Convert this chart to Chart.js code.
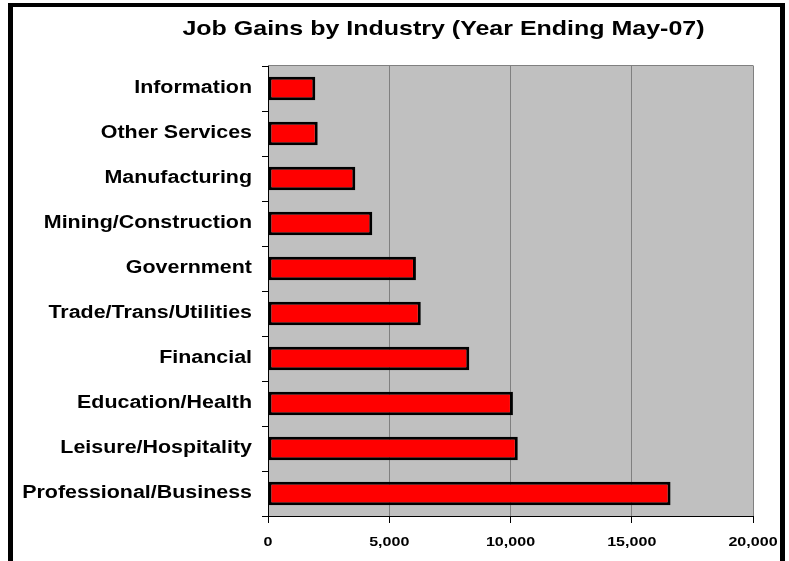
<!DOCTYPE html>
<html>
<head>
<meta charset="utf-8">
<script src="https://cdn.jsdelivr.net/npm/chart.js@4"></script>
<style>
  html, body { margin: 0; padding: 0; background: #fff; overflow: hidden; }
  #wrap { position: relative; width: 789px; height: 561px; }
  #c { position: absolute; left: 0; top: 0; }
  #frame { position: absolute; left: 8px; top: 3px; width: 767px; height: 620px;
           border-left: 5px solid #000; border-right: 5px solid #000; border-top: 4px solid #000;
           pointer-events: none; box-sizing: content-box; }
</style>
</head>
<body>
<div id="wrap">
  <canvas id="c" width="789" height="561"></canvas>
  <div id="frame"></div>
</div>
<script>
const TITLE = "Job Gains by Industry (Year Ending May-07)";
const categories = [
  "Information", "Other Services", "Manufacturing", "Mining/Construction",
  "Government", "Trade/Trans/Utilities", "Financial", "Education/Health",
  "Leisure/Hospitality", "Professional/Business"
];
const jobGains = [1950, 2050, 3600, 4300, 6100, 6300, 8300, 10100, 10300, 16600];
const xTickValues = [0, 5000, 10000, 15000, 20000];
const xTickLabels = ["0", "5,000", "10,000", "15,000", "20,000"];

// The reference text is horizontally widened; reproduce it by scaling glyphs about their anchor.
const SX = 1.19;
const proto = CanvasRenderingContext2D.prototype;
const origFill = proto.fillText;
const origMeasure = proto.measureText;
proto.fillText = function (t, x, y, mw) {
  this.save();
  this.translate(x, y);
  this.scale(SX, 1);
  origFill.call(this, t, 0, 0);
  this.restore();
};
proto.measureText = function (t) {
  const m = origMeasure.call(this, t);
  return {
    width: m.width * SX,
    actualBoundingBoxAscent: m.actualBoundingBoxAscent,
    actualBoundingBoxDescent: m.actualBoundingBoxDescent,
    actualBoundingBoxLeft: m.actualBoundingBoxLeft * SX,
    actualBoundingBoxRight: m.actualBoundingBoxRight * SX,
    fontBoundingBoxAscent: m.fontBoundingBoxAscent,
    fontBoundingBoxDescent: m.fontBoundingBoxDescent
  };
};

const plotBg = {
  id: 'plotBg',
  beforeDraw(chart) {
    const { ctx, chartArea: a } = chart;
    ctx.save();
    ctx.fillStyle = '#C0C0C0';
    ctx.fillRect(a.left, a.top, a.right - a.left, a.bottom - a.top);
    ctx.strokeStyle = '#808080';
    ctx.lineWidth = 1;
    ctx.beginPath();
    ctx.moveTo(a.left, a.top - 0.5);
    ctx.lineTo(a.right + 0.5, a.top - 0.5);
    ctx.stroke();
    ctx.restore();
  },
  afterDraw(chart) {
    const ctx = chart.ctx;
    ctx.save();
    ctx.font = 'bold 21px "Liberation Sans", Arial, sans-serif';
    ctx.fillStyle = '#000';
    ctx.textAlign = 'center';
    ctx.textBaseline = 'alphabetic';
    ctx.fillText(TITLE, 443.5, 35);
    ctx.restore();
  }
};

new Chart(document.getElementById('c'), {
  type: 'bar',
  data: {
    labels: categories,
    datasets: [{
      data: jobGains,
      backgroundColor: '#FF0000',
      borderColor: '#000000',
      borderWidth: 3,
      borderSkipped: false,
      barPercentage: 0.52,
      categoryPercentage: 1.0
    }]
  },
  options: {
    indexAxis: 'y',
    responsive: false,
    animation: false,
    devicePixelRatio: 1,
    layout: { padding: { left: 0, right: 36, top: 66, bottom: 0 } },
    plugins: { legend: { display: false }, title: { display: false }, tooltip: { enabled: false } },
    scales: {
      x: {
        type: 'linear',
        min: 0, max: 20000,
        afterBuildTicks(scale) { scale.ticks = xTickValues.map(v => ({ value: v })); },
        afterFit(scale) { scale.height = 45; },
        ticks: {
          callback: (v) => xTickLabels[xTickValues.indexOf(v)],
          color: '#000',
          font: { family: '"Liberation Sans", Arial, sans-serif', size: 13.5, weight: 'bold' },
          padding: 11,
          maxRotation: 0
        },
        grid: { color: '#808080', lineWidth: 1, tickColor: '#000', tickLength: 7 },
        border: { display: true, color: '#000', width: 1 }
      },
      y: {
        afterFit(scale) { scale.width = 268; },
        ticks: {
          color: '#000',
          font: { family: '"Liberation Sans", Arial, sans-serif', size: 18, weight: 'bold' },
          padding: 10
        },
        grid: { drawOnChartArea: false, offset: true, tickColor: '#000', tickLength: 6, color: '#000' },
        border: { display: true, color: '#000', width: 1 }
      }
    }
  },
  plugins: [plotBg]
});
</script>
</body>
</html>
